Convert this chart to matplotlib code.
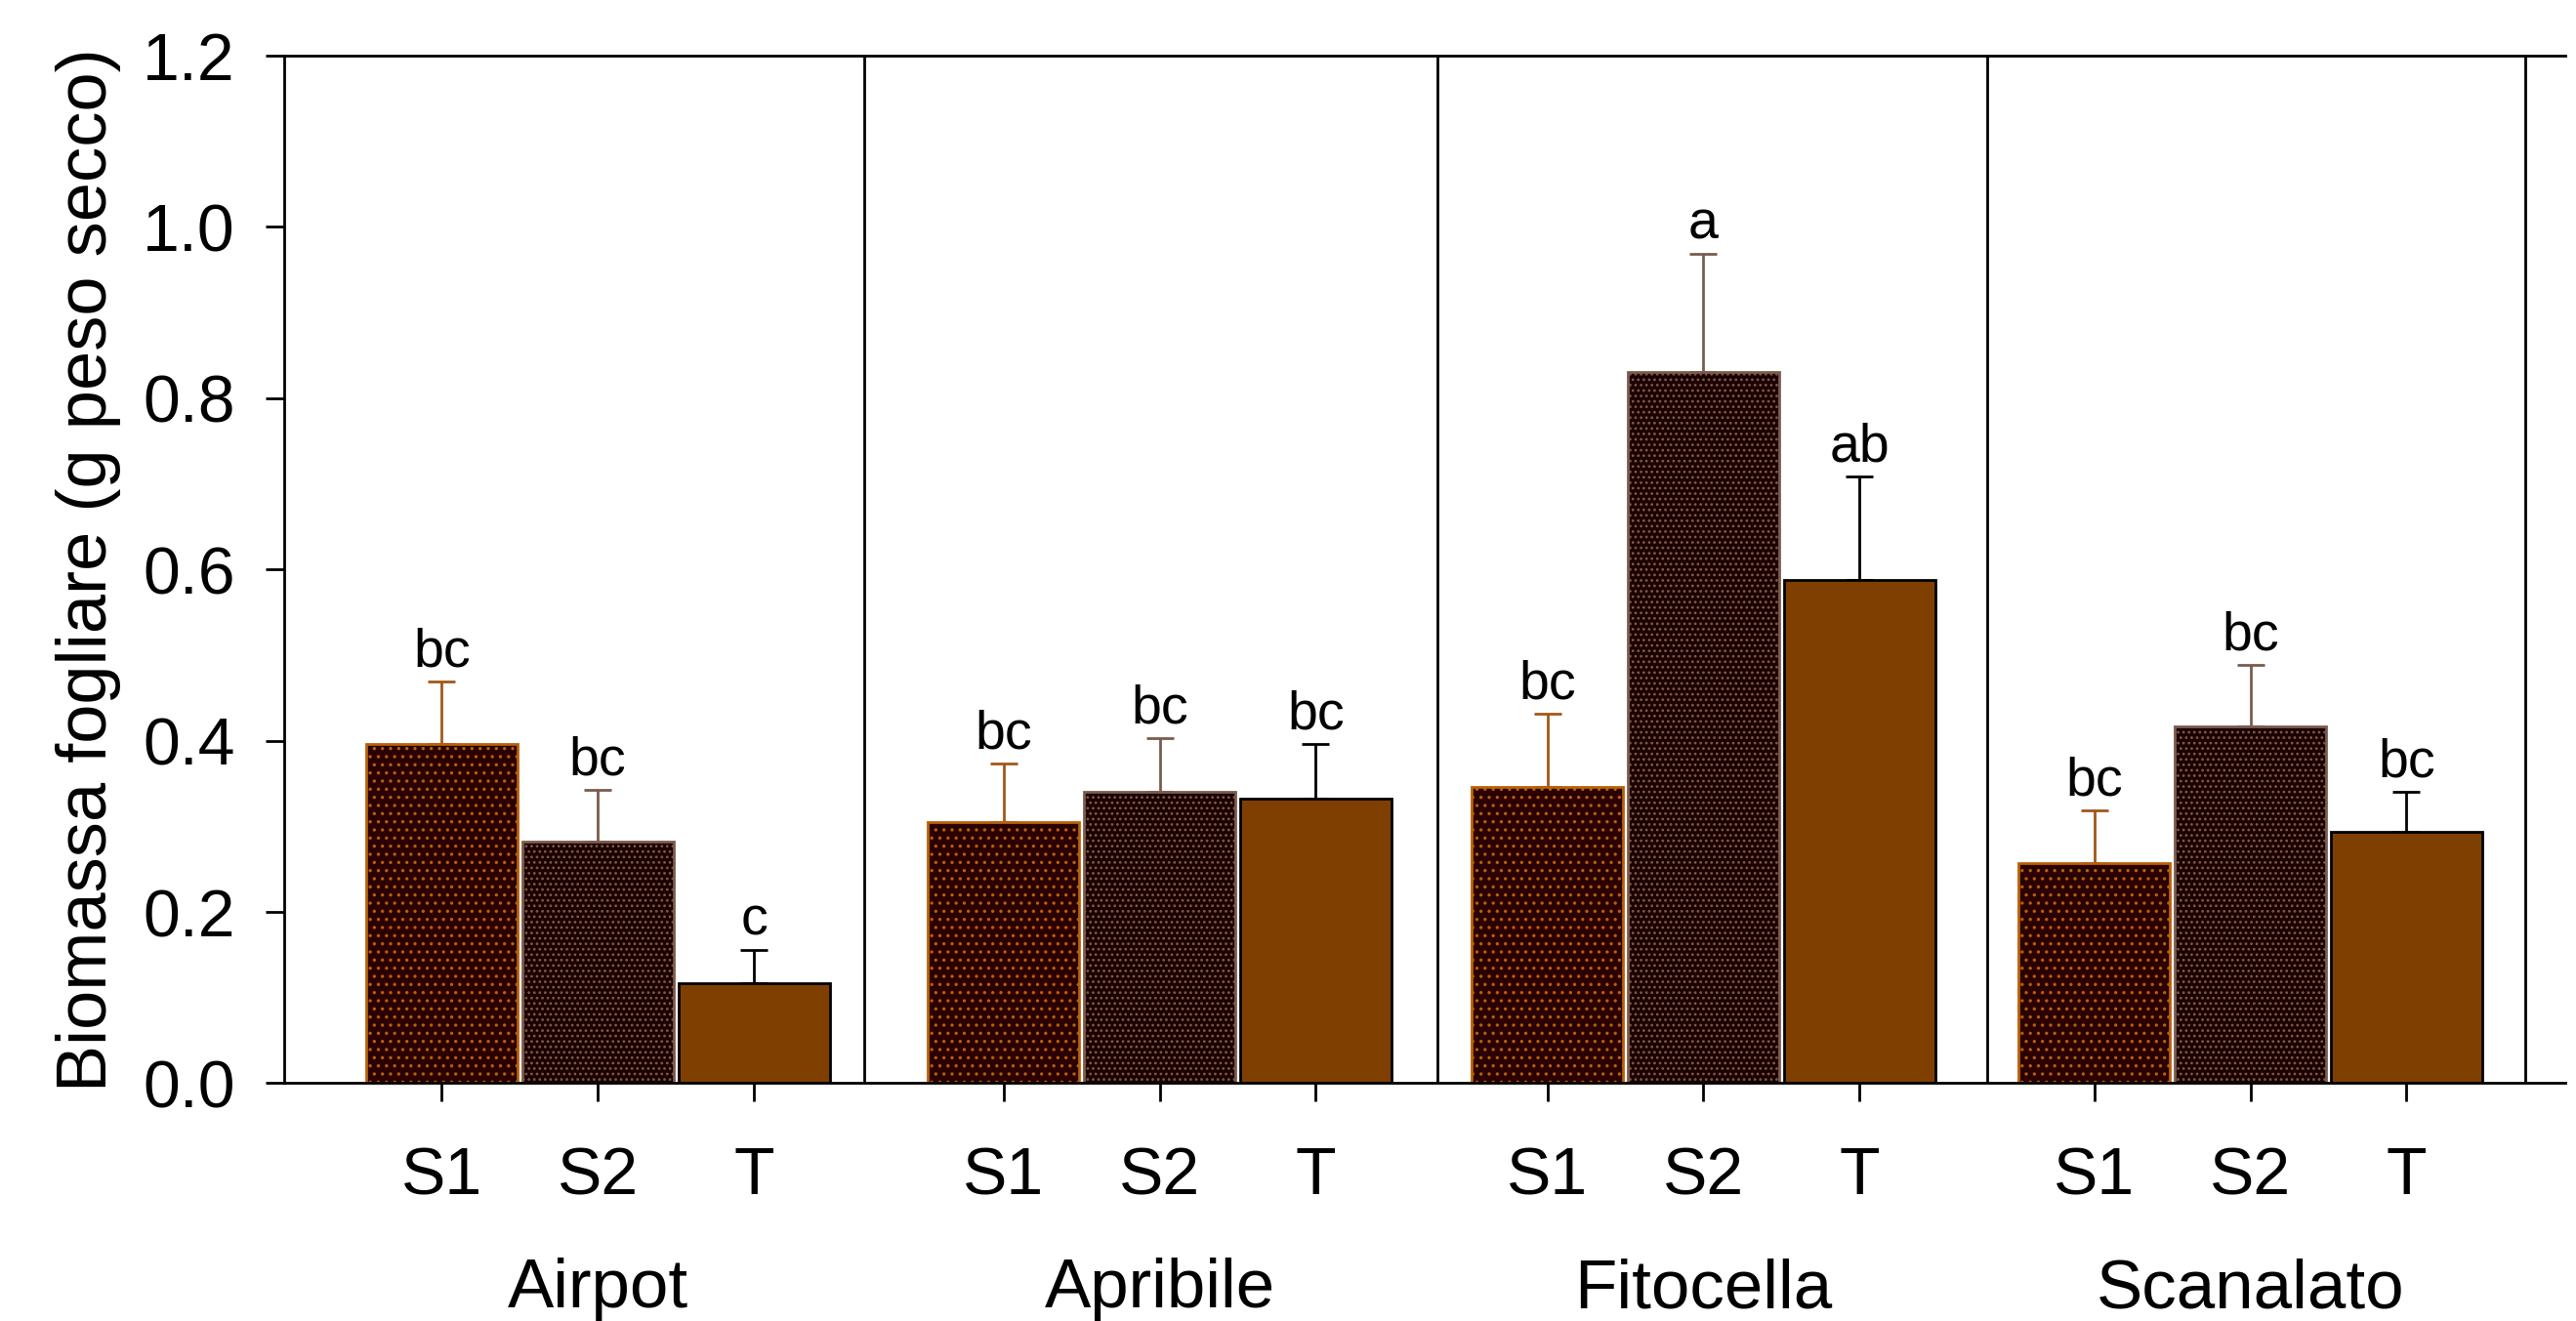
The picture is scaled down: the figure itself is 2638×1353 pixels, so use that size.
import numpy as np
import matplotlib
matplotlib.use("Agg")
import matplotlib.pyplot as plt

plt.rcParams['font.family'] = ['Liberation Sans', 'DejaVu Sans']
plt.rcParams['hatch.linewidth'] = 1.2

# data
groups = ['Airpot', 'Apribile', 'Fitocella', 'Scanalato']
treatments = ['S1', 'S2', 'T']
means = {
    'S1': [0.396, 0.305, 0.346, 0.257],
    'S2': [0.282, 0.340, 0.830, 0.417],
    'T':  [0.117, 0.332, 0.588, 0.294],
}
errors = {
    'S1': [0.073, 0.068, 0.086, 0.062],
    'S2': [0.060, 0.063, 0.138, 0.071],
    'T':  [0.039, 0.064, 0.121, 0.046],
}
letters = {
    'S1': ['bc', 'bc', 'bc', 'bc'],
    'S2': ['bc', 'bc', 'a', 'bc'],
    'T':  ['c', 'bc', 'ab', 'bc'],
}

# styles / layout
fills = {'S1': '#2a0000', 'S2': '#1c0000', 'T': '#7f3f00'}
edges = {'S1': '#b8600a', 'S2': '#7a5c4e', 'T': '#000000'}
hatches = {'S1': '..', 'S2': '...', 'T': None}
err_colors = {'S1': '#a0581a', 'S2': '#7a5c4e', 'T': '#000000'}

group_center = np.array([2.01, 5.61, 9.095, 12.6])
separators = [3.716, 7.389, 10.916, 14.358]
offsets = {'S1': -1.0, 'S2': 0.0, 'T': 1.0}
bar_w = 0.97

fig = plt.figure(figsize=(26.38, 13.53), dpi=100)
ax = fig.add_axes([0.1103, 0.180, 0.8857, 0.778])

tick_pos = []
tick_lab = []
for t in treatments:
    x = group_center + offsets[t]
    ax.bar(x, means[t], width=bar_w, color=fills[t], edgecolor=edges[t],
           hatch=hatches[t], linewidth=2.0, zorder=2)
    ax.errorbar(x, means[t], yerr=[np.zeros(len(x)), errors[t]], fmt='none',
                ecolor=err_colors[t], elinewidth=2.0, capsize=10, capthick=2.0, zorder=1)
    for xi, m, e, lab in zip(x, means[t], errors[t], letters[t]):
        ax.text(xi, m + e + 0.004, lab, ha='center', va='bottom', fontsize=40)
    tick_pos.extend(x)
    tick_lab.extend([t] * len(x))

# separators between groups
for s in separators:
    ax.axvline(s, color='black', linewidth=2.0, zorder=0)

ax.set_xlim(0, 14.62)
ax.set_ylim(0, 1.2)
yt = np.arange(0, 1.21, 0.2)
ax.set_yticks(yt)
ax.set_yticklabels([f'{v:.1f}' for v in yt])
ax.set_xticks(tick_pos)
ax.set_xticklabels(tick_lab)
ax.tick_params(axis='both', labelsize=49, width=2.0, length=14, direction='out')
ax.tick_params(axis='x', pad=32)
ax.tick_params(axis='y', pad=22)

for g, name in zip(group_center, groups):
    ax.text(g, -0.262, name, ha='center', va='baseline', fontsize=51,
            clip_on=False)

ax.spines['right'].set_visible(False)
for s in ['left', 'top', 'bottom']:
    ax.spines[s].set_linewidth(2.0)

ax.set_ylabel('Biomassa fogliare (g peso secco)', fontsize=52, labelpad=16)

fig.savefig('out.png', dpi=100)
